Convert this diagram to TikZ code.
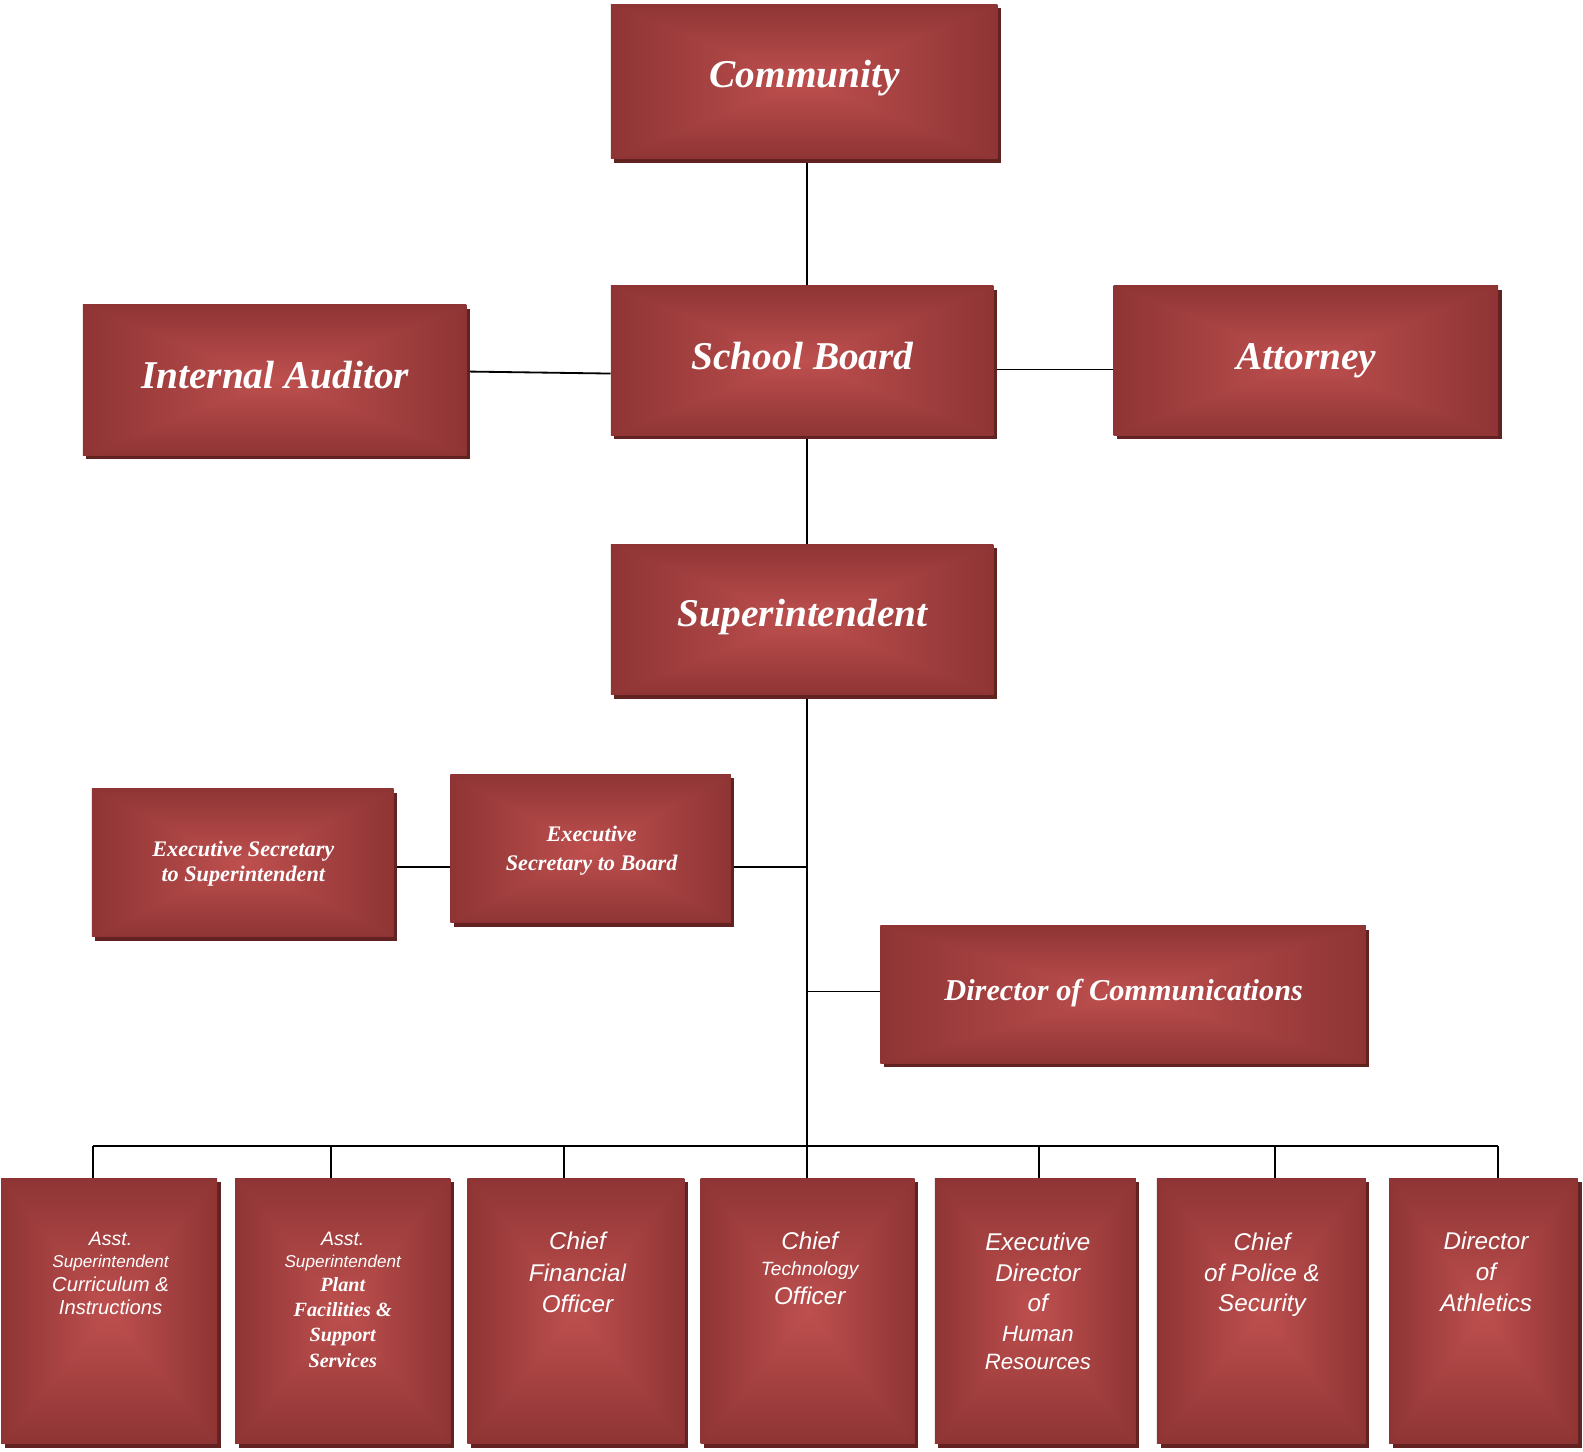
\documentclass[tikz,border=0pt]{standalone}
\usepackage{fontspec}
\setmainfont{Liberation Serif}
\newfontfamily\sansf{Liberation Sans}
\usetikzlibrary{shadows,calc,backgrounds}
\definecolor{shd}{RGB}{98,34,34}
\pgfdeclarefunctionalshading{rectpyr}{\pgfpoint{-50bp}{-50bp}}{\pgfpoint{50bp}{50bp}}{}{abs exch abs 2 copy lt {exch} if pop 25 div dup 1 gt {pop 1} if dup 0.185 mul 0.745 exch sub exch dup 0.11 mul 0.314 exch sub exch 0.106 mul 0.31 exch sub}
\tikzset{
  box/.style={rectangle, inner sep=0pt, shading=rectpyr,
    general shadow={fill=shd, shadow xshift=3.5pt, shadow yshift=-4pt}},
  head/.style={text=white, inner sep=0pt, anchor=base, font=\bfseries\itshape\fontsize{39}{39}\selectfont},
  mid/.style={text=white, inner sep=0pt, anchor=base, font=\bfseries\itshape\fontsize{22}{22}\selectfont},
  sl/.style={text=white, inner sep=0pt, anchor=base, font=\sansf\itshape\fontsize{#1}{#1}\selectfont},
  sr/.style={text=white, inner sep=0pt, anchor=base, font=\bfseries\itshape\fontsize{#1}{#1}\selectfont},
  conn/.style={line width=1.8pt, black},
}
\begin{document}
\begin{tikzpicture}[x=1pt,y=-1pt]
\path[use as bounding box] (0,0) rectangle (1568,1438);
% boxes
\node[box, minimum width=383pt, minimum height=153pt] (community) at (796.5,80.5) {};
\node[box, minimum width=379pt, minimum height=148pt] (board) at (794.5,357) {};
\node[box, minimum width=380pt, minimum height=149pt] (auditor) at (272,376.5) {};
\node[box, minimum width=381pt, minimum height=148pt] (attorney) at (1293.5,357) {};
\node[box, minimum width=379pt, minimum height=149pt] (supt) at (794.5,613.5) {};
\node[box, minimum width=299pt, minimum height=147pt] (es1) at (240.5,854.5) {};
\node[box, minimum width=278pt, minimum height=147pt] (es2) at (585,840.5) {};
\node[box, minimum width=481pt, minimum height=136pt] (dircom) at (1112.5,985) {};
\node[box, minimum width=214pt, minimum height=263pt] (b1) at (108,1298.5) {};
\node[box, minimum width=213pt, minimum height=263pt] (b2) at (339.5,1298.5) {};
\node[box, minimum width=215pt, minimum height=263pt] (b3) at (570.5,1298.5) {};
\node[box, minimum width=212pt, minimum height=263pt] (b4) at (800,1298.5) {};
\node[box, minimum width=199pt, minimum height=263pt] (b5) at (1025.5,1298.5) {};
\node[box, minimum width=207pt, minimum height=263pt] (b6) at (1249.5,1298.5) {};
\node[box, minimum width=187pt, minimum height=263pt] (b7) at (1469.5,1298.5) {};
% headline texts
\node[head] (tcommunity) at (797,86.5) {Community};
\node[head] (tboard) at (795,366) {School Board};
\node[head] (tauditor) at (272.5,385) {Internal Auditor};
\node[head] (tattorney) at (1294,366) {Attorney};
\node[head] (tsupt) at (795,621) {Superintendent};
\node[head, font=\bfseries\itshape\fontsize{30}{30}\selectfont] (tdircom) at (1113,991) {Director of Communications};
\node[mid] (tes1a) at (241,848) {Executive Secretary};
\node[mid] (tes1b) at (241,873.3) {to Superintendent};
\node[mid] (tes2a) at (586,833.7) {Executive};
\node[mid] (tes2b) at (586,862.4) {Secretary to Board};
% bottom texts
\node[sl=19.3] (t1a) at (109.5,1234) {Asst.};
\node[sl=17] (t1b) at (109.5,1255.6) {Superintendent};
\node[sl=20] (t1c) at (109.5,1279.4) {Curriculum \&};
\node[sl=20] (t1d) at (109.5,1302.5) {Instructions};
\node[sl=19.3] (t2a) at (339.5,1234) {Asst.};
\node[sl=17] (t2b) at (339.5,1255.6) {Superintendent};
\node[sr=20] (t2c) at (339.5,1279.4) {Plant};
\node[sr=20] (t2d) at (339.5,1304.2) {Facilities \&};
\node[sr=20] (t2e) at (339.5,1329) {Support};
\node[sr=20] (t2f) at (339.5,1354.3) {Services};
\node[sl=24] (t3a) at (572,1238) {Chief};
\node[sl=24] (t3b) at (572,1269) {Financial};
\node[sl=24] (t3c) at (572,1300) {Officer};
\node[sl=24] (t4a) at (802,1238.1) {Chief};
\node[sl=19] (t4b) at (802,1263.5) {Technology};
\node[sl=24] (t4c) at (802,1291.9) {Officer};
\node[sl=24] (t5a) at (1028,1239.1) {Executive};
\node[sl=24] (t5b) at (1028,1269.5) {Director};
\node[sl=24] (t5c) at (1028,1299.2) {of};
\node[sl=22] (t5d) at (1028,1328.9) {Human};
\node[sl=22] (t5e) at (1028,1356.3) {Resources};
\node[sl=24] (t6a) at (1250,1238.8) {Chief};
\node[sl=24] (t6b) at (1250,1269.5) {of Police \&};
\node[sl=24] (t6c) at (1250,1299.2) {Security};
\node[sl=24] (t7a) at (1472,1237.5) {Director};
\node[sl=24] (t7b) at (1472,1267.9) {of};
\node[sl=24] (t7c) at (1472,1299.2) {Athletics};
% connectors
\coordinate (trk) at (799,0);
\coordinate (esl) at (799,859);
\coordinate (d1) at (92,1135);
\coordinate (d2) at (328,1135);
\coordinate (d3) at (559,1135);
\coordinate (d4) at (799,1135);
\coordinate (d5) at (1029,1135);
\coordinate (d6) at (1263,1135);
\coordinate (d7) at (1484,1135);
\begin{scope}[on background layer]
\draw[conn] (community.south -| trk) -- (board.north -| trk);
\draw[conn] (board.south -| trk) -- (supt.north -| trk);
\draw[conn] (supt.south -| trk) -- (d4);
\draw[conn] ($(auditor.east)+(0,-8.5)$) -- ($(board.west)+(0,13)$);
\draw[conn] ($(board.east)+(0,9)$) -- ($(attorney.west)+(0,9)$);
\draw[conn] (esl) -- (esl -| es2.east);
\draw[conn] (es2.west |- esl) -- (es1.east |- esl);
\draw[conn] (dircom.west |- 0,982) -- (trk |- 0,982);
\draw[conn] (d1) -- (d7);
\draw[conn] (d1) -- (d1 |- b1.north);
\draw[conn] (d2) -- (d2 |- b2.north);
\draw[conn] (d3) -- (d3 |- b3.north);
\draw[conn] (d4) -- (d4 |- b4.north);
\draw[conn] (d5) -- (d5 |- b5.north);
\draw[conn] (d6) -- (d6 |- b6.north);
\draw[conn] (d7) -- (d7 |- b7.north);
\end{scope}
\end{tikzpicture}
\end{document}
